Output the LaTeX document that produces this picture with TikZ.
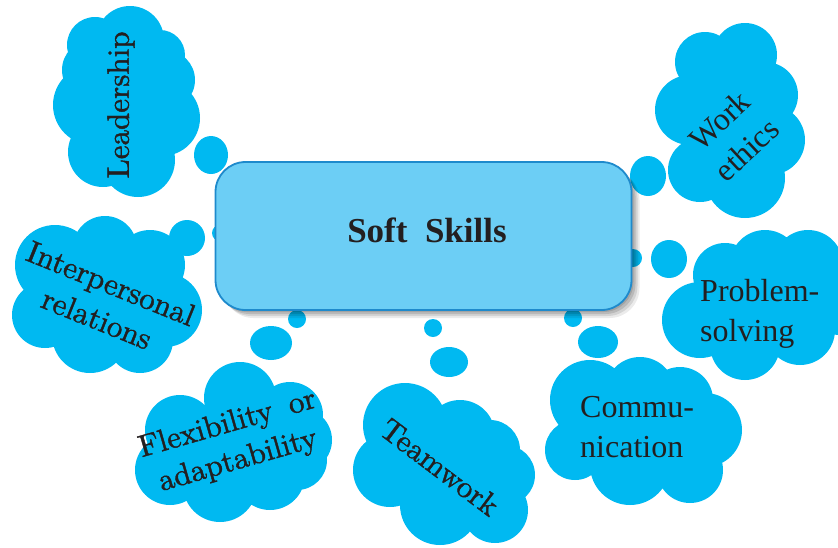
\documentclass[tikz,border=0pt]{standalone}
\usepackage{fontspec}
\newfontfamily\timesfont{Liberation Serif}
\newfontfamily\palfont{lmroman10-regular.otf}[FakeBold=1.3]
\usetikzlibrary{shadows}
\definecolor{cloudblue}{RGB}{0,185,241}
\definecolor{boxblue}{RGB}{108,206,245}
\definecolor{boxline}{RGB}{30,138,204}
\definecolor{ink}{RGB}{35,31,32}
\begin{document}
\begin{tikzpicture}[x=1pt,y=-1pt,
  cloudfill/.style={fill=cloudblue},
  lmtext/.style={text=ink, font=\palfont\fontsize{31}{38}\selectfont, align=center, inner sep=0pt},
  tmtext/.style={text=ink, font=\timesfont\fontsize{32}{40}\selectfont, align=left, inner sep=0pt},
  softbox/.style={draw=boxline, line width=1.8pt, fill=boxblue, rounded corners=30pt,
    minimum width=416pt, minimum height=148pt, inner sep=0pt,
    general shadow={shadow xshift=2pt, shadow yshift=-2pt, fill=black, opacity=0.12},
    general shadow={shadow xshift=4pt, shadow yshift=-4pt, fill=black, opacity=0.12},
    general shadow={shadow xshift=6pt, shadow yshift=-6pt, fill=black, opacity=0.10},
    general shadow={shadow xshift=8pt, shadow yshift=-8pt, fill=black, opacity=0.08}},
  titletext/.style={text=ink, font=\timesfont\bfseries\fontsize{35}{40}\selectfont, inner sep=0pt}
]
\useasboundingbox (0,0) rectangle (838,547);
\clip (0,0) rectangle (838,547);

% Leadership cloud
\fill[cloudfill] (95,45) circle[radius=28] (130,40) circle[radius=34] (160,55) circle[radius=25]
  (165,80) circle[radius=30] (92,70) circle[radius=30] (93,105) circle[radius=40]
  (162,118) circle[radius=38] (103,152) circle[radius=35] (138,160) circle[radius=37]
  (128,100) circle[radius=45];
% Work ethics cloud
\fill[cloudfill] (705,62) circle[radius=30] (745,55) circle[radius=32] (765,95) circle[radius=33]
  (690,110) circle[radius=35] (770,140) circle[radius=35] (700,170) circle[radius=32]
  (745,178) circle[radius=40] (735,120) circle[radius=50];
% Interpersonal cloud
\fill[cloudfill] (55,265) circle[radius=40] (105,248) circle[radius=32] (150,265) circle[radius=35]
  (45,315) circle[radius=33] (165,310) circle[radius=37] (90,335) circle[radius=38]
  (140,340) circle[radius=33] (105,295) circle[radius=50];
% Problem-solving cloud
\fill[cloudfill] (725,275) circle[radius=32] (765,265) circle[radius=35] (808,265) circle[radius=35]
  (700,320) circle[radius=38] (745,345) circle[radius=35] (800,330) circle[radius=35]
  (840,300) circle[radius=35] (760,305) circle[radius=50];
% Flexibility cloud
\fill[cloudfill] (240,398) circle[radius=36] (290,415) circle[radius=33] (300,440) circle[radius=32]
  (180,430) circle[radius=35] (170,470) circle[radius=35] (220,485) circle[radius=37]
  (270,475) circle[radius=35] (297,460) circle[radius=30] (235,450) circle[radius=50];
% Teamwork cloud
\fill[cloudfill] (405,425) circle[radius=42] (460,435) circle[radius=35] (490,450) circle[radius=30]
  (505,475) circle[radius=30] (390,470) circle[radius=37] (440,505) circle[radius=40]
  (495,510) circle[radius=33] (445,470) circle[radius=50];
% Communication cloud
\fill[cloudfill] (590,400) circle[radius=40] (640,392) circle[radius=35] (680,400) circle[radius=33]
  (705,430) circle[radius=37] (575,450) circle[radius=30] (630,465) circle[radius=40]
  (690,470) circle[radius=33] (645,430) circle[radius=50];

% thought bubbles
\fill[cloudfill] (211,155) ellipse[x radius=17, y radius=19];
\fill[cloudfill] (187,238) ellipse[x radius=18, y radius=18];
\fill[cloudfill] (220,233) circle[radius=8];
\fill[cloudfill] (297,319) circle[radius=9];
\fill[cloudfill] (271,343) ellipse[x radius=21, y radius=17];
\fill[cloudfill] (433,328) circle[radius=9];
\fill[cloudfill] (449,362) ellipse[x radius=19, y radius=15];
\fill[cloudfill] (573,318) circle[radius=9];
\fill[cloudfill] (598,342) ellipse[x radius=20, y radius=16];
\fill[cloudfill] (648,176) ellipse[x radius=18, y radius=20];
\fill[cloudfill] (633,258) circle[radius=9];
\fill[cloudfill] (626,207) circle[radius=6];
\fill[cloudfill] (669,259) ellipse[x radius=18, y radius=19];

% central box
\node[softbox] (box) at (423.5,236) {};
\node[titletext] (title) at (427,230) {Soft\hspace{0.5em}Skills};

% labels
\node[lmtext, rotate=90] (lead) at (121,105) {Leadership};
\node[lmtext, rotate=-22] (inter) at (104,301) {Interpersonal\\relations};
\node[lmtext, rotate=16] (flex) at (233,443) {Flexibility\hspace{0.55em}or\\adaptability};
\node[lmtext, rotate=-37] (team) at (440,467) {Teamwork};
\node[tmtext, align=center, rotate=43] (work) at (733,135) {Work\\ethics};
\node[tmtext, anchor=west] (prob) at (700,314) {Problem-\\solving};
\node[tmtext, anchor=west] (comm) at (580,427) {Commu-\\nication};
\end{tikzpicture}
\end{document}
